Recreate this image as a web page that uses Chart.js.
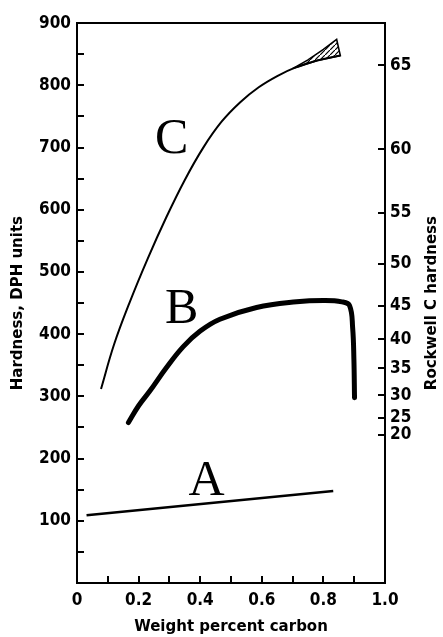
<!DOCTYPE html>
<html>
<head>
<meta charset="utf-8">
<script src="https://cdn.jsdelivr.net/npm/chart.js@4"></script>
<style>
html,body{margin:0;padding:0;background:#fff;}
canvas{display:block;}
</style>
</head>
<body>
<canvas id="c" width="443" height="637"></canvas>
<script>
// ---- data (weight percent carbon vs hardness, DPH units) ----
const carbonA = [0.031, 0.832];
const hardA   = [109, 148];

const carbonB = [0.167, 0.20, 0.237, 0.29, 0.345, 0.40, 0.464, 0.583, 0.713, 0.80, 0.86, 0.885, 0.895, 0.899, 0.901];
const hardB   = [258, 285, 309, 346, 380, 405, 424, 443, 452, 454, 452, 446, 410, 360, 298];

const carbonC = [0.078, 0.12, 0.17, 0.23, 0.29, 0.35, 0.41, 0.47, 0.53, 0.59, 0.65, 0.71, 0.78, 0.855];
const hardC   = [312, 383, 450, 522, 588, 648, 700, 742, 773, 797, 815, 829, 840, 848];

// hatched scatter band at the top of curve C (closed outline)
const carbonHatch = [0.70, 0.75, 0.80, 0.843, 0.855, 0.78, 0.72, 0.70];
const hardHatch   = [827, 841, 858, 874, 848, 840, 830, 827];

// right axis: Rockwell C values and their DPH equivalents
const rockwellC   = [20, 25, 30, 35, 40, 45, 50, 55, 60, 65];
const rockwellDPH = [238, 266, 302, 345, 392, 446, 513, 595, 697, 832];

// curve letters
const curveLabels = ['A', 'B', 'C'];
const labelX = [0.421, 0.34, 0.307];
const labelY = [141, 418, 692];

const rightTitle = 'Rockwell C hardness';

function pts(xs, ys){ return xs.map((x,i)=>({x:x, y:ys[i]})); }

function hatchPattern(){
  const c = document.createElement('canvas');
  c.width = 5; c.height = 5;
  const g = c.getContext('2d');
  g.strokeStyle = '#000'; g.lineWidth = 1.2;
  g.beginPath();
  g.moveTo(-1, 6); g.lineTo(6, -1);
  g.stroke();
  return g.createPattern(c, 'repeat');
}

const tickFont = {family:"'DejaVu Sans Condensed', 'DejaVu Sans', sans-serif", size:17, weight:'bold'};
const titleFont = {family:"'DejaVu Sans', sans-serif", size:15, weight:'bold'};
Chart.defaults.font.family = "'DejaVu Sans', sans-serif";
Chart.defaults.color = '#000';

const letterPlugin = {
  id: 'letters',
  afterDatasetsDraw(chart){
    const {ctx, scales:{x, y}} = chart;
    ctx.save();
    ctx.fillStyle = '#000';
    ctx.font = "50px 'Liberation Serif', serif";
    ctx.textAlign = 'center';
    ctx.textBaseline = 'alphabetic';
    curveLabels.forEach((t,i)=>{
      ctx.fillText(t, x.getPixelForValue(labelX[i]), y.getPixelForValue(labelY[i]));
    });
    ctx.restore();
  },
  afterDraw(chart){
    const {ctx, chartArea} = chart;
    ctx.save();
    ctx.fillStyle = '#000';
    ctx.font = "bold 15px 'DejaVu Sans', sans-serif";
    ctx.textAlign = 'center';
    ctx.textBaseline = 'middle';
    ctx.translate(chart.width - 11, (chartArea.top + chartArea.bottom) / 2);
    ctx.rotate(-Math.PI / 2);
    ctx.fillText(rightTitle, 0, 0);
    ctx.restore();
  }
};

const axisGrid = {drawOnChartArea:false, tickLength:-7, color:'#000', lineWidth:2};
const axisBorder = {color:'#000', width:2};

new Chart(document.getElementById('c'), {
  type: 'scatter',
  data: {
    datasets: [
      {label:'A', data: pts(carbonA, hardA), showLine:true, borderColor:'#000', borderWidth:2.5, pointRadius:0, tension:0, fill:false},
      {label:'B', data: pts(carbonB, hardB), showLine:true, borderColor:'#000', borderWidth:5, pointRadius:0, tension:0.4, fill:false, borderCapStyle:'round', borderJoinStyle:'round'},
      {label:'C', data: pts(carbonC, hardC), showLine:true, borderColor:'#000', borderWidth:2, pointRadius:0, tension:0.4, fill:false},
      {label:'band', data: pts(carbonHatch, hardHatch), showLine:true, borderColor:'#000', borderWidth:1.6, pointRadius:0, tension:0, fill:'shape', backgroundColor: hatchPattern()}
    ]
  },
  options: {
    responsive: false,
    animation: false,
    devicePixelRatio: 1,
    layout: {padding: {top: 20, left: 0, right: 0, bottom: 0}},
    plugins: {legend:{display:false}, tooltip:{enabled:false}},
    scales: {
      x: {
        type:'linear', position:'bottom', min:0, max:1,
        ticks:{stepSize:0.1, autoSkip:false, maxRotation:0, padding:14, font:tickFont, color:'#000',
          callback:(v)=>{ const k = Math.round(v*10); if (k % 2) return ''; return k===0 ? '0' : (k/10).toFixed(1); }},
        grid: axisGrid, border: axisBorder,
        title:{display:true, text:'Weight percent carbon', color:'#000', font:titleFont, padding:{top:0, bottom:1}},
        afterFit:(s)=>{ s.height = 54; }
      },
      xTop: {
        type:'linear', position:'top', min:0, max:1,
        ticks:{display:false},
        grid:{drawOnChartArea:false, drawTicks:false},
        border: axisBorder,
        afterFit:(s)=>{ s.height = 0; }
      },
      y: {
        type:'linear', position:'left', min:0, max:900,
        ticks:{stepSize:50, autoSkip:false, padding:13, font:tickFont, color:'#000',
          callback:(v)=> (v % 100 === 0 && v !== 0) ? String(v) : ''},
        grid: axisGrid, border: axisBorder,
        title:{display:true, text:'Hardness, DPH units', color:'#000', font:titleFont, padding:{top:9, bottom:0}},
        afterFit:(s)=>{ s.width = 77; }
      },
      y2: {
        type:'linear', position:'right', min:0, max:900,
        afterBuildTicks:(s)=>{ s.ticks = rockwellDPH.map(v=>({value:v})); },
        ticks:{autoSkip:false, padding:12, font:tickFont, color:'#000',
          callback:(v)=>{ const i = rockwellDPH.indexOf(v); return i >= 0 ? String(rockwellC[i]) : ''; }},
        grid: axisGrid, border: axisBorder,
        title:{display:false},
        afterFit:(s)=>{ s.width = 58; }
      }
    }
  },
  plugins: [letterPlugin]
});
</script>
</body>
</html>
